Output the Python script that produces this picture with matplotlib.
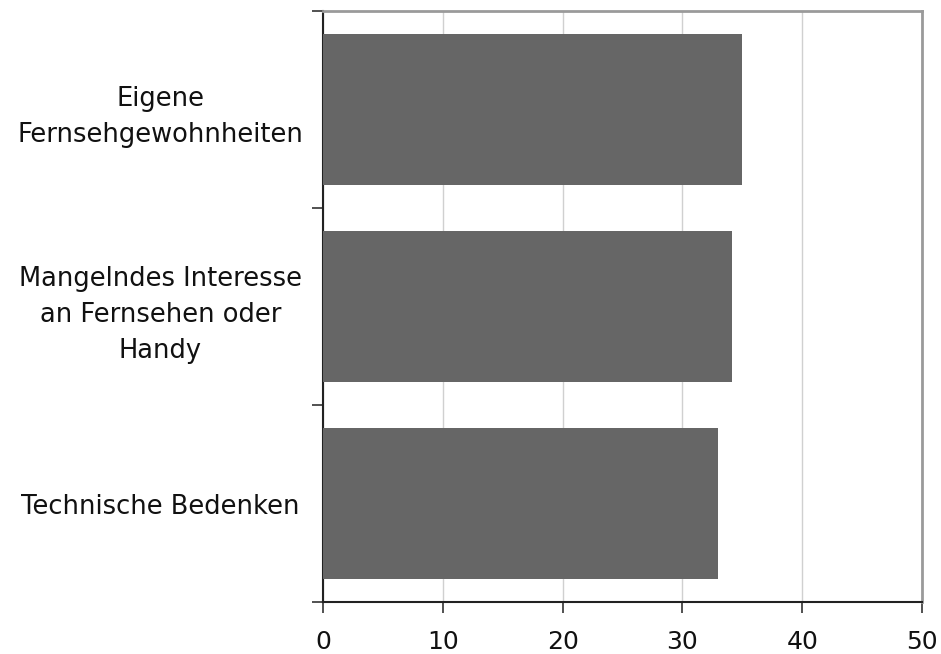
import matplotlib.pyplot as plt
import numpy as np

plt.rcParams['font.family'] = ['DejaVu Sans']

categories = ["Eigene\nFernsehgewohnheiten",
              "Mangelndes Interesse\nan Fernsehen oder\nHandy",
              "Technische Bedenken"]
values = [35.0, 34.1, 33.0]
x_ticks = [0, 10, 20, 30, 40, 50]

fig = plt.figure(figsize=(9.41, 6.54), dpi=100)
ax = fig.add_axes([323 / 941, 1 - 602 / 654, (922 - 323) / 941, (602 - 11) / 654])

y = np.arange(len(categories))
ax.barh(y, values, height=0.77, color="#666666", zorder=3)

ax.set_xlim(0, 50)
ax.set_ylim(len(categories) - 0.5, -0.5)
ax.set_xticks(x_ticks)
ax.set_xticklabels([str(t) for t in x_ticks], fontsize=18, color="#111111")
ax.xaxis.grid(True, color="#d0d0d0", linewidth=1, zorder=0)

# category boundaries as major ticks, labels at centers
ax.set_yticks(np.arange(len(categories) + 1) - 0.5)
ax.set_yticklabels([])
ax.set_yticks(y, minor=True)
ax.set_yticklabels(categories, minor=True, fontsize=18.5, color="#111111",
                   ha="center", linespacing=1.5)
ax.tick_params(axis="y", which="minor", length=0, pad=117)
ax.tick_params(axis="y", which="major", length=8, width=1.2, color="#333333")
ax.tick_params(axis="x", length=8, width=1.2, color="#333333", pad=12)

for s in ["left", "bottom"]:
    ax.spines[s].set_color("#222222")
    ax.spines[s].set_linewidth(1.5)
for s in ["top", "right"]:
    ax.spines[s].set_color("#9a9a9a")
    ax.spines[s].set_linewidth(2)

fig.savefig("out.png", dpi=100)
